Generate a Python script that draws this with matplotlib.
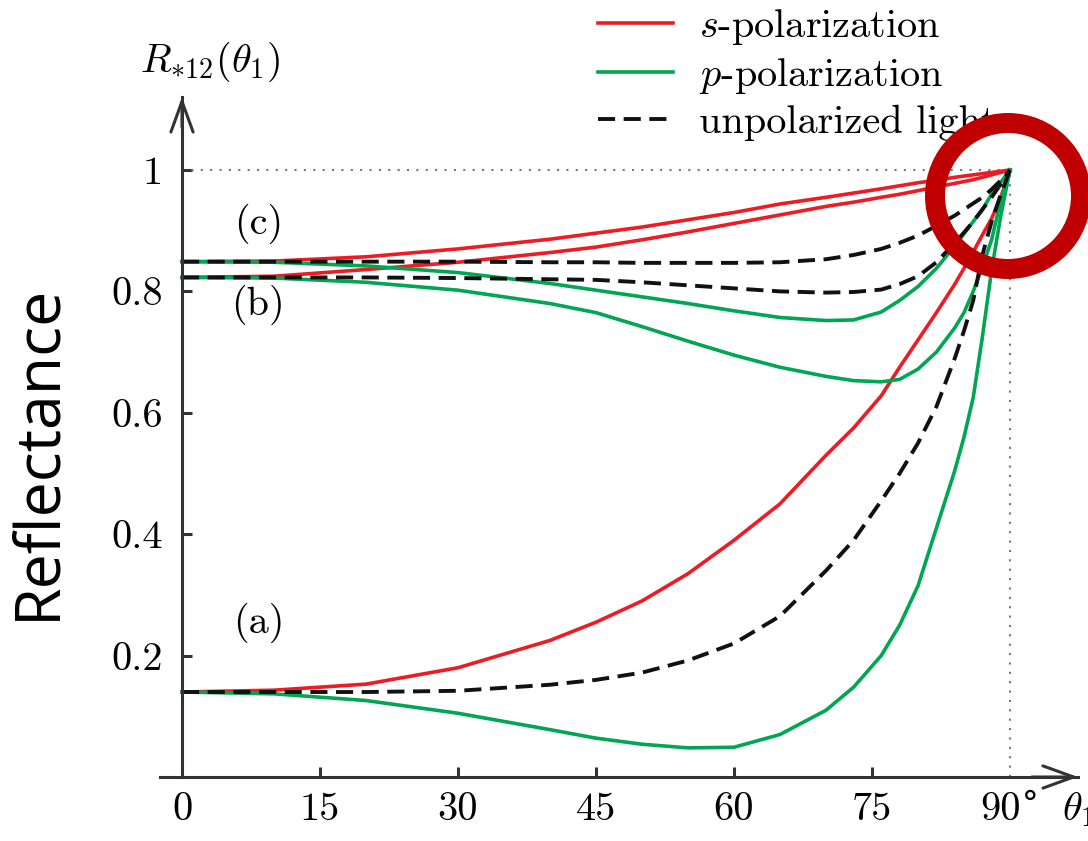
import matplotlib
matplotlib.use("Agg")
import matplotlib.pyplot as plt
from matplotlib.patches import Ellipse

plt.rcParams['font.family'] = ['cmr10', 'DejaVu Serif']
plt.rcParams['mathtext.fontset'] = 'cm'
plt.rcParams['axes.unicode_minus'] = False

# angles of incidence (degrees) where the curves were read
theta = [0, 10, 20, 30, 40, 45, 50, 55, 60, 65, 70, 73, 76, 78, 80, 82, 84, 85, 86, 87, 88, 89, 90]

# case (a)
s_a = [.14, .143, .153, .18, .225, .255, .29, .335, .39, .45, .53, .575, .628, .675, .72, .765, .812, .838, .865, .893, .92, .955, 1.0]
p_a = [.14, .137, .126, .105, .078, .064, .054, .048, .049, .07, .11, .148, .2, .25, .315, .41, .505, .56, .625, .725, .835, .925, 1.0]
u_a = [.14, .14, .14, .142, .152, .16, .172, .192, .22, .265, .34, .39, .455, .5, .55, .61, .69, .735, .785, .86, .915, .96, 1.0]
# case (b)
s_b = [.823, .825, .836, .848, .864, .873, .885, .898, .912, .926, .94, .947, .955, .96, .966, .972, .978, .981, .984, .988, .992, .996, 1.0]
p_b = [.823, .822, .815, .802, .78, .765, .742, .718, .695, .675, .66, .653, .651, .655, .672, .7, .74, .765, .8, .84, .885, .95, 1.0]
u_b = [.823, .823, .823, .822, .82, .819, .815, .81, .805, .8, .798, .799, .803, .812, .825, .848, .88, .897, .915, .935, .955, .977, 1.0]
# case (c)
s_c = [.849, .85, .857, .87, .886, .896, .906, .918, .93, .944, .955, .962, .969, .974, .979, .983, .988, .99, .992, .994, .996, .998, 1.0]
p_c = [.849, .848, .842, .831, .813, .802, .791, .78, .768, .757, .752, .753, .766, .785, .808, .838, .875, .895, .915, .935, .96, .98, 1.0]
u_c = [.849, .849, .849, .849, .848, .848, .847, .847, .847, .848, .853, .86, .87, .88, .892, .908, .925, .935, .945, .955, .968, .983, 1.0]

xticks = [0, 15, 30, 45, 60, 75, 90]
xticklabels = ['0', '15', '30', '45', '60', '75', '']
yticks = [0.2, 0.4, 0.6, 0.8, 1.0]
yticklabels = ['0.2', '0.4', '0.6', '0.8', '1']

red = '#ED1C24'
green = '#00A651'
black = '#111111'
axis_col = '#333333'
fs = 29

fig = plt.figure(figsize=(10.88, 8.41), dpi=100)
W, H = 1088, 841
ax = fig.add_axes([160 / W, 1 - 777 / H, (1078 - 160) / W, (777 - 97) / H])
xmin, xmax = -22 / 9.2, (1078 - 182) / 9.2
ymax = 680 / 607
ax.set_xlim(xmin, xmax)
ax.set_ylim(0, ymax)

# reference lines at R = 1 and 90 degrees
ax.plot([0, 90], [1, 1], color='#777777', lw=1.5, dashes=(1, 3.5))
ax.plot([90, 90], [0, 1], color='#777777', lw=1.5, dashes=(1, 3.5))

lw = 2.6
dash = (4.4, 2.2)
for s in [s_a, s_b, s_c]:
    ax.plot(theta, s, color=red, lw=lw, label='$s$-polarization' if s is s_a else None)
for p in [p_a, p_b, p_c]:
    ax.plot(theta, p, color=green, lw=lw, label='$p$-polarization' if p is p_a else None)
for u in [u_a, u_b, u_c]:
    ax.plot(theta, u, color=black, lw=2.8, dashes=dash, label='unpolarized light' if u is u_a else None)

# axes drawn as arrows
for side in ['top', 'right']:
    ax.spines[side].set_visible(False)
ax.spines['left'].set_position(('data', 0))
ax.spines['bottom'].set_position(('data', 0))
for side in ['left', 'bottom']:
    ax.spines[side].set_linewidth(2.2)
    ax.spines[side].set_color(axis_col)
aprops = dict(arrowstyle='->,head_length=2.2,head_width=0.8', lw=2.2, color=axis_col,
              mutation_scale=10, shrinkA=0, shrinkB=0)
ax.annotate('', xy=(xmax, 0), xytext=(xmax - 5, 0), arrowprops=aprops, annotation_clip=False)
ax.annotate('', xy=(0, ymax), xytext=(0, ymax - 0.05), arrowprops=aprops, annotation_clip=False)

ax.set_xticks(xticks)
ax.set_xticklabels(xticklabels)
ax.set_yticks(yticks)
ax.set_yticklabels(yticklabels)
ax.tick_params(axis='both', direction='in', length=7, width=2.2, color=axis_col, labelsize=fs)
ax.tick_params(axis='x', pad=11)
ax.tick_params(axis='y', pad=14)
xt = ax.xaxis.get_major_ticks()
xt[0].tick1line.set_visible(False)
xt[-1].tick1line.set_visible(False)

# "90°" written by hand (cmr10 has no ° glyph)
ylab = -15.3 / 607
ax.text(91.2, ylab, '90', fontsize=fs, va='top', ha='right', clip_on=False)
ax.text(91.3, ylab + 0.004, '°', family='DejaVu Serif', fontsize=24, va='top', ha='left', clip_on=False)
ax.text(95.6, -0.053, r'$\theta_1$', fontsize=fs, va='center', ha='left', clip_on=False)
fig.text(140 / W, 1 - 62 / H, r'$R_{*12}(\theta_1)$', fontsize=fs, va='center', ha='left')

ax.text(8.3, 0.254, '(a)', fontsize=fs, ha='center', va='center')
ax.text(8.3, 0.778, '(b)', fontsize=fs, ha='center', va='center')
ax.text(8.3, 0.912, '(c)', fontsize=fs, ha='center', va='center')

ax.legend(loc='upper left', bbox_to_anchor=(598 / W, 1 - 7 / H), bbox_transform=fig.transFigure,
          frameon=False, fontsize=fs, handlelength=1.85, handletextpad=0.65,
          labelspacing=0.22, borderpad=0, borderaxespad=0)

fig.text(38 / W, 1 - 452 / H, 'Reflectance', family='Open Sans', fontsize=45,
         rotation=90, ha='center', va='center')

fig.add_artist(Ellipse((1008 / W, 1 - 196 / H), 146 / W, 146 / H, transform=fig.transFigure,
                       fill=False, lw=14.4, ec='#C00000', zorder=5))

fig.savefig('out.png', dpi=100)
